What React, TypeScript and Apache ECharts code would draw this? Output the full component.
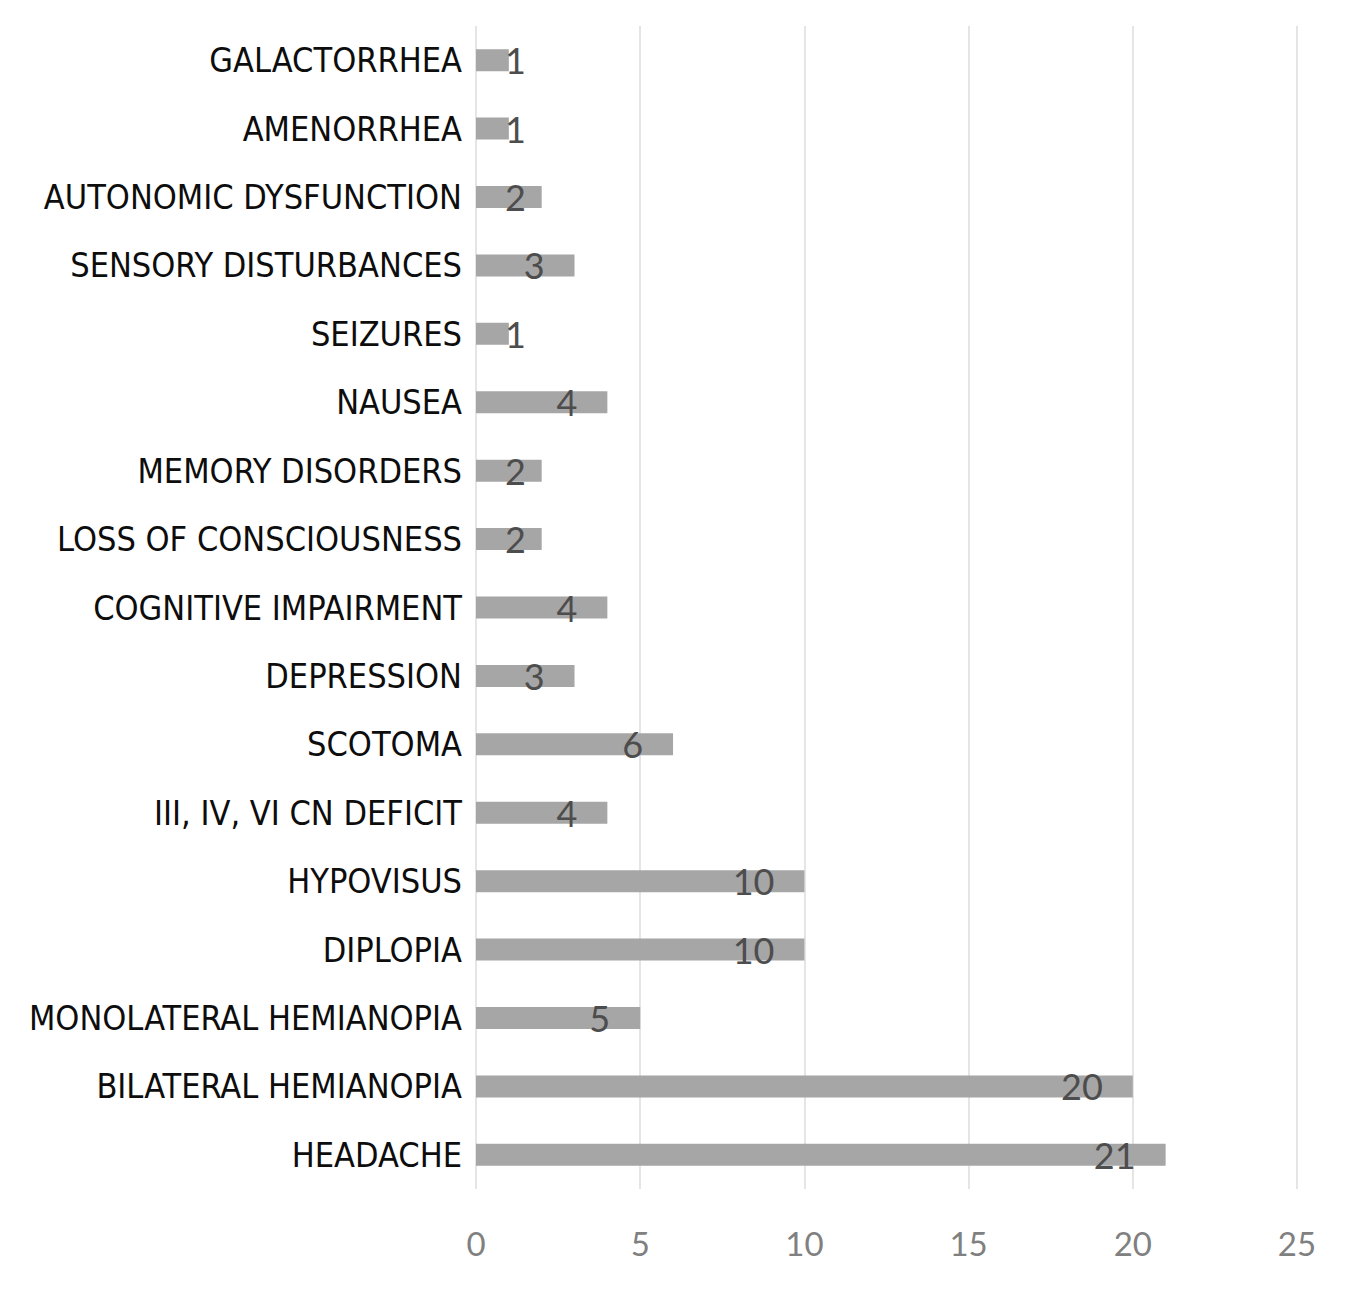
import React, { useEffect, useRef } from "react";
import * as echarts from "echarts";

const categories = [
  "GALACTORRHEA",
  "AMENORRHEA",
  "AUTONOMIC DYSFUNCTION",
  "SENSORY DISTURBANCES",
  "SEIZURES",
  "NAUSEA",
  "MEMORY DISORDERS",
  "LOSS OF CONSCIOUSNESS",
  "COGNITIVE IMPAIRMENT",
  "DEPRESSION",
  "SCOTOMA",
  "III, IV, VI CN DEFICIT",
  "HYPOVISUS",
  "DIPLOPIA",
  "MONOLATERAL HEMIANOPIA",
  "BILATERAL HEMIANOPIA",
  "HEADACHE",
];

const values = [1, 1, 2, 3, 1, 4, 2, 2, 4, 3, 6, 4, 10, 10, 5, 20, 21];

const xTicks = { min: 0, max: 25, interval: 5 };

export default function App() {
  const ref = useRef<HTMLDivElement>(null);
  useEffect(() => {
    document.body.style.margin = "0";
    const chart = echarts.init(ref.current!, null, { renderer: "svg" });
    const labelFont = "'DejaVu Sans Condensed', 'Liberation Sans Narrow', Lato, sans-serif";
    chart.setOption({
      animation: false,
      backgroundColor: "#ffffff",
      grid: { left: 476, right: 63, top: 26, bottom: 108 },
      xAxis: {
        type: "value",
        min: xTicks.min,
        max: xTicks.max,
        interval: xTicks.interval,
        axisLine: { show: false },
        axisTick: { show: false },
        splitLine: { show: true, lineStyle: { color: "#dcdcdc", width: 1.5 } },
        axisLabel: {
          color: "#808080",
          fontSize: 33,
          fontFamily: "Lato, sans-serif",
          margin: 37,
        },
      },
      yAxis: {
        type: "category",
        data: categories,
        inverse: true,
        axisLine: { show: false },
        axisTick: { show: false },
        axisLabel: {
          color: "#0d0d0d",
          fontSize: 34,
          fontFamily: labelFont,
          margin: 14,
        },
      },
      series: [
        {
          type: "bar",
          data: values.map((v) => ({
            value: v,
            label: v <= 2 ? { position: "insideLeft", distance: 29 } : undefined,
          })),
          barWidth: 22,
          itemStyle: { color: "#a6a6a6" },
          label: {
            show: true,
            position: "insideRight",
            distance: 30,
            color: "#4d4d4d",
            fontSize: 36,
            fontFamily: "Lato, sans-serif",
          },
        },
      ],
    });
    return () => chart.dispose();
  }, []);
  return <div ref={ref} style={{ width: 1360, height: 1297 }} />;
}
